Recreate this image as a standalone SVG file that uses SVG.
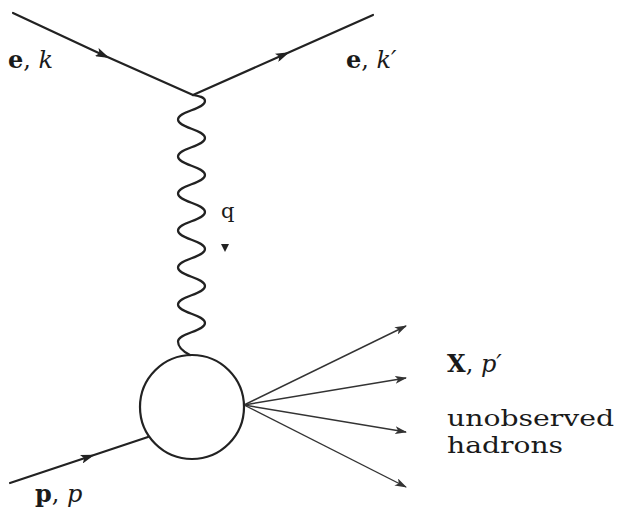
<svg xmlns="http://www.w3.org/2000/svg" width="619" height="510" viewBox="0 0 619 510">
<style>
.ln{stroke:#222;stroke-width:2.2;fill:none;stroke-linecap:round}
.th{stroke:#333;stroke-width:1.4;fill:none}
text{font-family:'DejaVu Serif','Liberation Serif',serif;font-size:24px;fill:#1a1a1a}
.b{font-weight:bold}
.i{font-style:italic}
</style>
<defs>
<marker id="mid" viewBox="0 0 14 9" refX="7" refY="4.5" markerWidth="14" markerHeight="9" markerUnits="userSpaceOnUse" orient="auto">
<path d="M0,0 L14,4.5 L0,9 L3,4.5 z" fill="#222"/>
</marker>
<marker id="tip" viewBox="0 0 12 8" refX="11" refY="4" markerWidth="12" markerHeight="8" markerUnits="userSpaceOnUse" orient="auto">
<path d="M0,0 L12,4 L0,8 L3,4 z" fill="#333"/>
</marker>
</defs>
<g id="connectors">
<path class="ln" d="M13,13 L103,55" marker-end="url(#mid)"/>
<path class="ln" d="M103,55 L193,95"/>
<path class="ln" d="M193,95 L283,55" marker-end="url(#mid)"/>
<path class="ln" d="M283,55 L373,15"/>
<path class="ln" stroke-width="2" d="M193,95 C199,96 205,97 205,101 C205,109.3 178,111.2 178,119.5 C178,127.8 205,129.7 205,138 C205,146.3 178,148.2 178,156.5 C178,164.8 205,166.7 205,175 C205,183.3 178,185.2 178,193.5 C178,201.8 205,203.7 205,212 C205,220.3 178,222.2 178,230.5 C178,238.8 205,240.7 205,249 C205,257.3 178,259.2 178,267.5 C178,275.8 205,277.7 205,286 C205,294.3 178,296.2 178,304.5 C178,312.8 205,314.7 205,323 C205,331.3 178,333.2 178,341.5 C178,348 184,352 190,355"/>
<path d="M221,244 L229,244 L225,252 z" fill="#222"/>
<path class="ln" d="M10,483 L88,457" marker-end="url(#mid)"/>
<path class="ln" d="M88,457 L148,437"/>
<path class="th" d="M244,405 L406,326" marker-end="url(#tip)"/>
<path class="th" d="M244,405 L406,378" marker-end="url(#tip)"/>
<path class="th" d="M244,405 L406,432" marker-end="url(#tip)"/>
<path class="th" d="M244,405 L406,487" marker-end="url(#tip)"/>
</g>
<g id="blob">
<circle cx="192" cy="407" r="52" fill="none" stroke="#222" stroke-width="2.2"/>
</g>
<g id="label-ek">
<text x="8" y="68"><tspan class="b">e</tspan>, <tspan class="i">k</tspan></text>
</g>
<g id="label-ekp">
<text x="346" y="68"><tspan class="b">e</tspan>, <tspan class="i">k′</tspan></text>
</g>
<g id="label-q">
<text x="221" y="218" style="font-size:21px">q</text>
</g>
<g id="label-pp">
<text x="35" y="502"><tspan class="b">p</tspan>, <tspan class="i">p</tspan></text>
</g>
<g id="label-X">
<text x="447" y="372"><tspan class="b">X</tspan>, <tspan class="i">p′</tspan></text>
<text x="447" y="426" style="font-size:23px" textLength="167" lengthAdjust="spacingAndGlyphs">unobserved</text>
<text x="447" y="453" style="font-size:23px" textLength="116" lengthAdjust="spacingAndGlyphs">hadrons</text>
</g>
</svg>
